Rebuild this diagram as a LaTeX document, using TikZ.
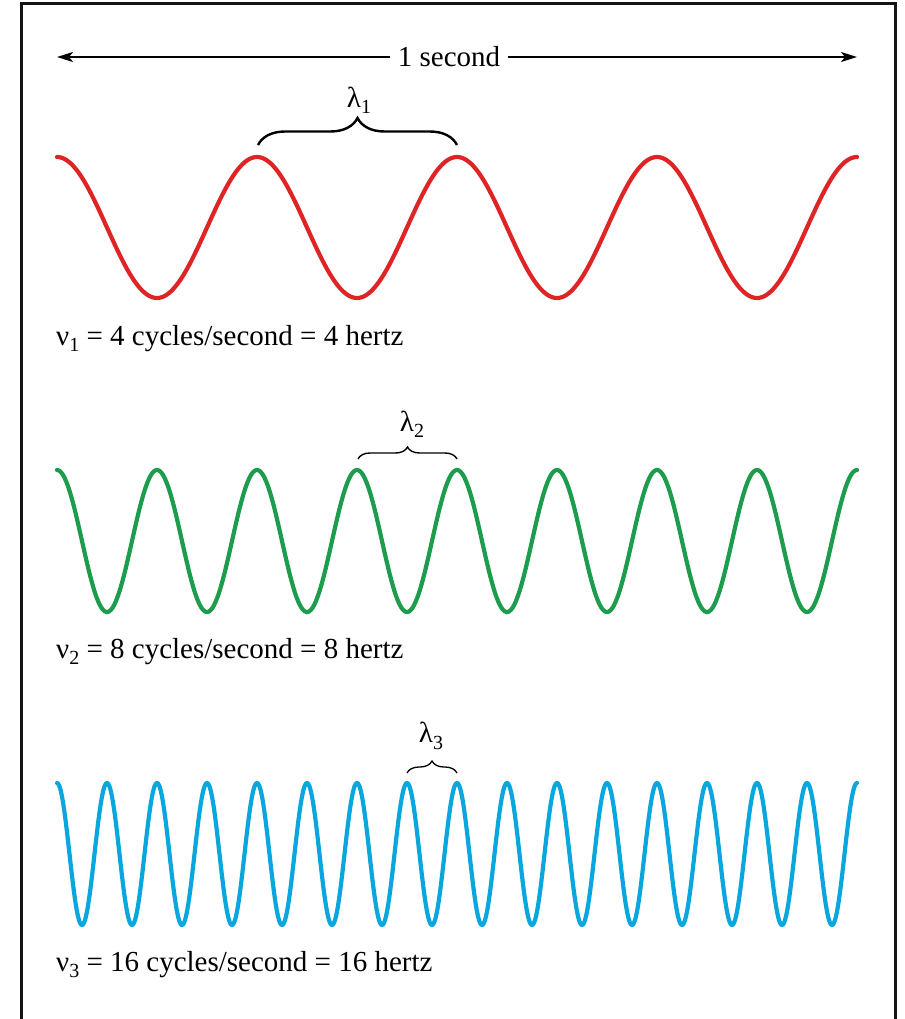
\documentclass[tikz,border=0pt]{standalone}
\usepackage{fontspec}
\setmainfont{Liberation Serif}
\usetikzlibrary{arrows.meta,decorations.pathreplacing}
\definecolor{wred}{RGB}{222,36,36}
\definecolor{wgreen}{RGB}{28,156,76}
\definecolor{wblue}{RGB}{10,166,222}
\definecolor{frameblack}{RGB}{20,20,20}
\newcommand{\sub}[1]{\raisebox{-0.22em}{\fontsize{20}{22}\selectfont #1}}
\tikzset{
  lbl/.style={font=\fontsize{29}{33}\selectfont, inner sep=0pt},
  wave/.style={line width=4.2pt, line join=round, line cap=round},
  bracestyle/.style={decorate, decoration={brace, amplitude=#1, aspect=0.5}},
}
\begin{document}
\begin{tikzpicture}[x=1pt,y=-1pt]
\useasboundingbox (0,0) rectangle (904,1019);
% frame
\draw[frameblack, line width=3pt] (21.5,1019) -- (21.5,3.5) -- (895.5,3.5) -- (895.5,1019);
% 1 second arrow
\coordinate (L) at (57,57);
\coordinate (R) at (857,57);
\node[lbl, inner xsep=8pt] (S) at (449,57) {1 second};
\draw[line width=2pt, -{Stealth[length=16pt,width=10pt,inset=4pt]}] (S) -- (R);
\draw[line width=2pt, -{Stealth[length=16pt,width=10pt,inset=4pt]}] (S) -- (L);
% waves
\draw[wave, wred] plot[domain=0:800, samples=401] ({57+\x},{227.5-70.5*cos(\x*1.8)});
\draw[wave, wgreen] plot[domain=0:800, samples=601] ({57+\x},{541-71*cos(\x*3.6)});
\draw[wave, wblue] plot[domain=0:800, samples=1001] ({57+\x},{854-71*cos(\x*7.2)});
% braces
\coordinate (b1a) at (258,145);
\coordinate (b1b) at (457,145);
\draw[bracestyle=27pt, line width=2.4pt] (b1a) -- (b1b);
\node[lbl] (l1) at (359,100) {λ\sub{1}};
\coordinate (b2a) at (358,459);
\coordinate (b2b) at (457,459);
\draw[bracestyle=12pt, line width=1.4pt] (b2a) -- (b2b);
\node[lbl] (l2) at (412,424) {λ\sub{2}};
\coordinate (b3a) at (407,773);
\coordinate (b3b) at (457,773);
\draw[bracestyle=12pt, line width=1.3pt] (b3a) -- (b3b);
\node[lbl] (l3) at (431,736) {λ\sub{3}};
% labels
\node[lbl, anchor=base west] (n1) at (56,345) {ν\sub{1} = 4 cycles/second = 4 hertz};
\node[lbl, anchor=base west] (n2) at (56,658) {ν\sub{2} = 8 cycles/second = 8 hertz};
\node[lbl, anchor=base west] (n3) at (56,971) {ν\sub{3} = 16 cycles/second = 16 hertz};
\end{tikzpicture}
\end{document}
